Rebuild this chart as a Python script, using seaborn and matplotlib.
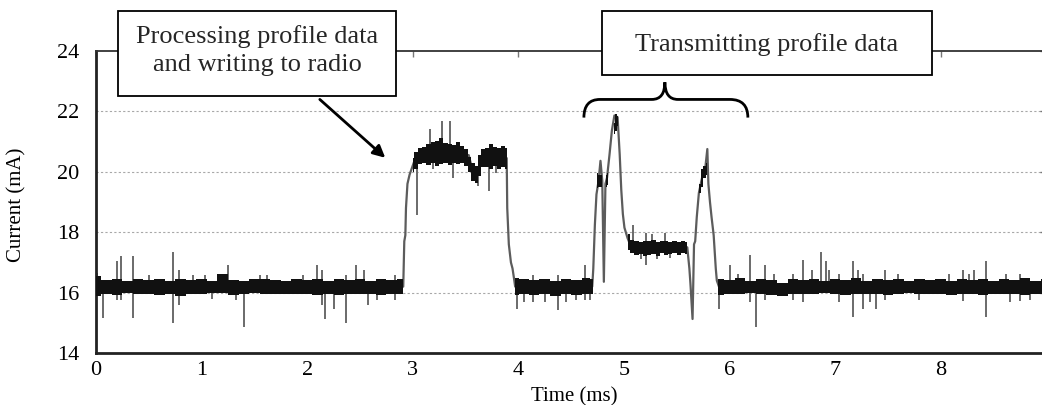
import numpy as np
import pandas as pd
import matplotlib
matplotlib.use("Agg")
import matplotlib.pyplot as plt
import seaborn as sns
from matplotlib.path import Path
from matplotlib.patches import PathPatch, Rectangle

sns.set_theme(style="white")
plt.rcParams["font.family"] = ["Liberation Serif", "DejaVu Serif"]

nan = np.nan

# centre line of the current trace (ms, mA), incl. the steep edges
trace_t = [0.00, 2.91, 2.92, 2.93, 2.936, 2.95, 2.97, 2.99, 3.02, 3.53, 3.57, 3.60, 3.63, 3.66,
           3.89, 3.895, 3.91, 3.93, 3.945, 3.96, 3.97, 4.70, 4.71, 4.725, 4.74, 4.76, 4.778,
           4.795, 4.81, 4.825, 4.84, 4.864, 4.886, 4.91, 4.94, 4.96, 4.975, 4.99, 5.005,
           5.035, 5.07, 5.60, 5.62, 5.63, 5.65, 5.664, 5.675, 5.69, 5.71, 5.74, 5.77, 5.79,
           5.80, 5.815, 5.83, 5.85, 5.87, 5.88, 5.90, 9.00]
trace_ma = [16.20, 16.20, 17.70, 17.90, 18.80, 19.60, 19.90, 20.10, 20.40, 20.55, 20.00, 19.85,
            20.20, 20.45, 20.45, 18.80, 17.60, 17.00, 16.80, 16.45, 16.20, 16.20, 16.80, 18.25,
            19.25, 19.70, 20.36, 19.70, 16.36, 19.60, 19.80, 20.58, 21.36, 21.86, 21.80, 20.58,
            19.40, 18.60, 18.15, 17.80, 17.50, 17.50, 16.80, 16.30, 15.13, 17.60, 17.70, 18.50,
            19.30, 19.80, 20.10, 20.75, 19.60, 19.00, 18.50, 17.90, 16.80, 16.40, 16.20, 16.20]

# dense noise band while idle
idle_t = [0.0, 0.1, 0.2, 0.3, 0.4, 0.5, 0.6, 0.7, 0.8, 0.9, 1.0, 1.1, 1.2, 1.3, 1.4,
          1.5, 1.6, 1.7, 1.8, 1.9, 2.0, 2.1, 2.2, 2.3, 2.4, 2.5, 2.6, 2.7, 2.8, 2.9, 2.91,
          nan,
          3.97, 4.05, 4.15, 4.25, 4.35, 4.45, 4.55, 4.65, 4.71,
          nan,
          5.89, 6.0, 6.1, 6.2, 6.3, 6.4, 6.5, 6.6, 6.7, 6.8, 6.9, 7.0, 7.1, 7.2, 7.3, 7.4,
          7.5, 7.6, 7.7, 7.8, 7.9, 8.0, 8.1, 8.2, 8.3, 8.4, 8.5, 8.6, 8.7, 8.8, 8.9, 9.0]
idle_hi = [16.55, 16.42, 16.45, 16.40, 16.44, 16.42, 16.44, 16.40, 16.45, 16.42, 16.44, 16.40,
           16.62, 16.42, 16.40, 16.44, 16.45, 16.42, 16.40, 16.44, 16.42, 16.45, 16.40, 16.44,
           16.42, 16.45, 16.40, 16.44, 16.42, 16.45, 16.45,
           nan,
           16.47, 16.45, 16.42, 16.46, 16.40, 16.45, 16.42, 16.47, 16.45,
           nan,
           16.45, 16.42, 16.48, 16.40, 16.45, 16.42, 16.32, 16.44, 16.42, 16.46, 16.40, 16.45,
           16.42, 16.48, 16.40, 16.44, 16.42, 16.45, 16.40, 16.44, 16.42, 16.46, 16.40, 16.45,
           16.42, 16.44, 16.40, 16.45, 16.42, 16.48, 16.40, 16.44]
idle_lo = [15.90, 15.95, 15.92, 15.98, 15.95, 15.97, 15.93, 15.96, 15.90, 15.97, 15.95, 15.98,
           16.00, 15.93, 15.96, 15.98, 15.95, 15.96, 15.94, 15.97, 15.95, 15.92, 15.96, 15.93,
           15.97, 15.94, 15.96, 15.93, 15.95, 15.95, 15.95,
           nan,
           15.91, 15.95, 15.92, 15.97, 15.90, 15.95, 15.93, 15.96, 15.95,
           nan,
           15.92, 15.97, 15.94, 15.98, 15.95, 15.93, 15.88, 15.96, 15.97, 15.94, 15.98, 15.95,
           15.93, 15.96, 15.97, 15.94, 15.92, 15.96, 15.98, 15.95, 15.94, 15.96, 15.93, 15.97,
           15.95, 15.92, 15.96, 15.94, 15.97, 15.93, 15.96, 15.95]

# dense noise band while busy (processing plateau, transmit bursts)
busy_t = [3.00, 3.03, 3.07, 3.11, 3.15, 3.19, 3.23, 3.27, 3.31, 3.35, 3.39, 3.43, 3.47, 3.51,
          3.54, 3.57, 3.60, 3.63, 3.66, 3.70, 3.74, 3.78, 3.82, 3.86, 3.89,
          nan,
          4.745, 4.765, 4.79,
          nan,
          4.83, 4.85,
          nan,
          4.905, 4.925, 4.945,
          nan,
          5.04, 5.08, 5.12, 5.16, 5.20, 5.24, 5.28, 5.32, 5.36, 5.40, 5.44, 5.48, 5.52, 5.56, 5.60,
          nan,
          5.715, 5.74, 5.765, 5.785]
busy_hi = [20.45, 20.65, 20.80, 20.82, 20.90, 20.98, 21.02, 21.10, 20.95, 20.90, 20.88, 20.98,
           20.85, 20.75, 20.50, 20.30, 20.20, 20.55, 20.75, 20.80, 20.92, 20.82, 20.80, 20.85, 20.80,
           nan,
           19.95, 19.90, 19.90,
           nan,
           19.90, 19.95,
           nan,
           21.60, 21.90, 21.85,
           nan,
           17.95, 17.75, 17.70, 17.68, 17.72, 17.70, 17.75, 17.68, 17.70, 17.72, 17.68, 17.70,
           17.68, 17.70, 17.68,
           nan,
           19.60, 20.10, 20.20, 20.30]
busy_lo = [20.00, 20.10, 20.25, 20.28, 20.22, 20.30, 20.18, 20.25, 20.30, 20.22, 20.28, 20.25,
           20.30, 20.20, 20.00, 19.70, 19.62, 19.85, 20.15, 20.15, 20.10, 20.18, 20.10, 20.15, 20.10,
           nan,
           19.45, 19.50, 19.50,
           nan,
           19.50, 19.55,
           nan,
           21.25, 21.35, 21.50,
           nan,
           17.40, 17.30, 17.25, 17.28, 17.20, 17.25, 17.28, 17.22, 17.30, 17.25, 17.28, 17.30,
           17.26, 17.30, 17.28,
           nan,
           19.30, 19.50, 19.80, 19.90]

# isolated glitches sticking out of the band
spike_t = [0.01, 0.07, 0.20, 0.24, 0.35, 0.50, 0.73, 0.79, 0.92, 1.03, 1.10, 1.25, 1.33, 1.40,
           1.55, 1.62, 1.96, 2.09, 2.14, 2.17, 2.25, 2.37, 2.46, 2.54, 2.58, 2.66, 2.83,
           3.04, 3.16, 3.19, 3.28, 3.35, 3.38, 3.62, 3.72, 3.79,
           3.99, 4.05, 4.14, 4.25, 4.38, 4.45, 4.55, 4.63, 4.68,
           5.09, 5.16, 5.21, 5.27, 5.31, 5.39, 5.44,
           5.90, 6.00, 6.08, 6.19, 6.25, 6.34, 6.42, 6.60, 6.70, 6.78, 6.87, 6.91, 6.94, 7.04,
           7.17, 7.22, 7.26, 7.33, 7.39, 7.47, 7.60, 7.79, 8.08, 8.21, 8.27, 8.32, 8.43, 8.62,
           8.66, 8.75, 8.85]
spike_lo = [16.20, 15.15, 15.75, 15.75, 15.15, 16.00, 15.00, 15.60, 16.00, 16.00, 15.78, 16.00,
            15.76, 14.85, 16.00, 16.00, 16.00, 16.00, 15.60, 15.13, 15.45, 15.00, 16.00, 16.00,
            15.60, 15.75, 15.75,
            18.58, 20.50, 20.08, 20.50, 20.50, 19.80, 19.52, 19.36, 19.97,
            15.45, 15.70, 15.70, 15.70, 15.42, 15.70, 15.75, 15.75, 15.75,
            17.40, 17.13, 16.91, 17.40, 17.13, 17.40, 17.15,
            15.47, 16.00, 16.00, 15.70, 14.86, 15.76, 16.00, 15.76, 15.70, 16.00, 16.00, 16.00,
            16.00, 15.70, 15.19, 16.00, 15.47, 15.70, 15.47, 15.76, 16.00, 15.76, 16.00, 15.73,
            16.00, 16.00, 15.19, 16.00, 15.70, 15.73, 15.76]
spike_hi = [16.65, 16.20, 17.05, 17.20, 17.20, 16.60, 17.35, 16.75, 16.60, 16.60, 16.20, 16.90,
            16.20, 16.20, 16.60, 16.60, 16.60, 16.90, 16.75, 16.20, 16.20, 16.60, 16.90, 16.75,
            16.20, 16.20, 16.60,
            20.20, 21.41, 20.50, 21.69, 21.69, 20.50, 20.00, 20.50, 20.50,
            16.20, 16.20, 16.60, 16.20, 16.60, 16.20, 16.20, 16.90, 16.20,
            18.25, 17.50, 17.97, 17.95, 17.50, 17.97, 17.50,
            16.20, 16.90, 16.63, 17.25, 16.20, 16.90, 16.63, 16.63, 17.08, 16.75, 17.36, 17.05,
            16.75, 16.63, 17.05, 16.75, 16.63, 16.20, 16.20, 16.75, 16.63, 16.20, 16.63, 16.75,
            16.63, 16.75, 17.05, 16.63, 16.20, 16.63, 16.20]

y_ticks = [14, 16, 18, 20, 22, 24]
x_ticks = [0, 1, 2, 3, 4, 5, 6, 7, 8]

trace = pd.DataFrame({"time_ms": trace_t, "current_ma": trace_ma})

fig = plt.figure(figsize=(10.42, 4.05), dpi=100)
ax = fig.add_axes([0.0921, 0.128, 0.912, 0.7467])

for yv in y_ticks[1:-1]:
    ax.axhline(yv, color="#a8a8a8", lw=0.8, ls=(0, (2, 2)), zorder=0)

sns.lineplot(data=trace, x="time_ms", y="current_ma", estimator=None, sort=False,
             color="#5c5c5c", lw=1.6, ax=ax, zorder=2)
ax.vlines(spike_t, spike_lo, spike_hi, color="#6a6a6a", lw=1.4, zorder=2)
ax.fill_between(idle_t, idle_lo, idle_hi, step="mid", color="#111111", lw=0, zorder=3)
ax.fill_between(busy_t, busy_lo, busy_hi, step="mid", color="#111111", lw=0, zorder=3)

ax.set_xlim(0, 9)
ax.set_ylim(14, 24)
ax.set_xticks(x_ticks)
ax.set_yticks(y_ticks)
ax.tick_params(axis="both", direction="in", length=4, width=1, color="#777777",
               labelsize=16, labelcolor="black")
ax.tick_params(axis="x", pad=6, top=True)
ax.tick_params(axis="y", pad=12, right=True)

for side in ["left", "bottom"]:
    ax.spines[side].set_linewidth(2)
    ax.spines[side].set_color("#222222")
ax.spines["top"].set_linewidth(1.3)
ax.spines["top"].set_color("#333333")
ax.spines["right"].set_visible(False)

ax.set_xlabel("Time (ms)", fontsize=15, color="black")
ax.set_ylabel("Current (mA)", fontsize=15, color="black")
ax.xaxis.set_label_coords(0.503, -0.112)
ax.yaxis.set_label_coords(-0.073, 0.49)

# annotation boxes
ax.add_patch(Rectangle((0.208, 22.49), 2.633, 2.83, fc="white", ec="black", lw=1.3,
                       clip_on=False, zorder=5))
ax.text(1.525, 24.0, "Processing profile data\nand writing to radio", fontsize=19,
        ha="center", va="center", linespacing=1.36, zorder=6, clip_on=False)
ax.add_patch(Rectangle((4.792, 23.19), 3.125, 2.13, fc="white", ec="black", lw=1.3,
                       clip_on=False, zorder=5))
ax.text(6.354, 24.22, "Transmitting profile data", fontsize=19,
        ha="center", va="center", zorder=6, clip_on=False)

ax.annotate("", xy=(2.74, 20.46), xytext=(2.12, 22.39),
            arrowprops=dict(arrowstyle="-|>,head_length=0.6,head_width=0.3",
                            color="black", lw=2, shrinkA=0, shrinkB=0))

# curly brace over the transmit bursts
brace = Path(
    [(4.621, 21.79), (4.621, 22.39), (4.773, 22.39), (5.265, 22.39),
     (5.388, 22.39), (5.388, 22.96), (5.388, 22.39), (5.511, 22.39),
     (6.004, 22.39), (6.174, 22.39), (6.174, 21.79)],
    [Path.MOVETO, Path.CURVE3, Path.CURVE3, Path.LINETO,
     Path.CURVE3, Path.CURVE3, Path.CURVE3, Path.CURVE3,
     Path.LINETO, Path.CURVE3, Path.CURVE3])
ax.add_patch(PathPatch(brace, fc="none", ec="black", lw=2, zorder=4))

fig.savefig("out.png", dpi=100)
